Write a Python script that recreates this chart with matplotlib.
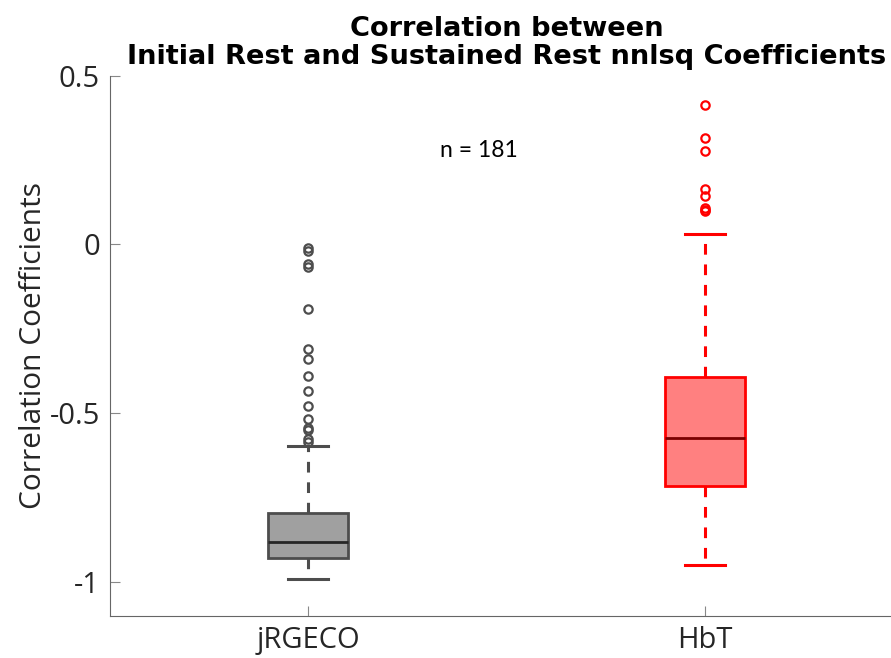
import numpy as np
import matplotlib
matplotlib.use('Agg')
from matplotlib import pyplot as plt

# summary statistics of the two coefficient sets
groups = ['jRGECO', 'HbT']
q1 = [-0.927, -0.715]
med = [-0.881, -0.572]
q3 = [-0.794, -0.392]
whislo = [-0.990, -0.950]
whishi = [-0.597, 0.032]
fliers_jrgeco = [-0.010, -0.019, -0.057, -0.066, -0.190, -0.311, -0.338,
                 -0.388, -0.435, -0.477, -0.518, -0.542, -0.550, -0.577, -0.586]
fliers_hbt = [0.414, 0.314, 0.278, 0.165, 0.144, 0.108, 0.103, 0.100]
n_obs = 181

edge_cols = ['#4d4d4d', '#ff0000']
fill_cols = ['#a0a0a0', '#ff8080']
med_cols = ['#262626', '#7a0000']
txt = '#262626'

stats = []
for i, name in enumerate(groups):
    stats.append({'label': name, 'q1': q1[i], 'med': med[i], 'q3': q3[i],
                  'whislo': whislo[i], 'whishi': whishi[i],
                  'fliers': [fliers_jrgeco, fliers_hbt][i]})

fig = plt.figure(figsize=(8.91, 6.58), dpi=100)
ax = fig.add_axes([0.1229, 0.0638, 0.8911, 0.8214])

bp = ax.bxp(stats, positions=[1, 2], widths=0.2, capwidths=0.1,
            patch_artist=True, showfliers=True)

for i in range(2):
    b = bp['boxes'][i]
    b.set_facecolor(fill_cols[i])
    b.set_edgecolor(edge_cols[i])
    b.set_linewidth(2.0)
    bp['medians'][i].set_color(med_cols[i])
    bp['medians'][i].set_linewidth(2.0)
    for w in bp['whiskers'][2*i:2*i+2]:
        w.set_color(edge_cols[i])
        w.set_linewidth(2.2)
        w.set_linestyle((0, (3.5, 3.2)))
    for c in bp['caps'][2*i:2*i+2]:
        c.set_color(edge_cols[i])
        c.set_linewidth(2.2)
    f = bp['fliers'][i]
    f.set_marker('o')
    f.set_markersize(6)
    f.set_markerfacecolor('none')
    f.set_markeredgecolor(edge_cols[i])
    f.set_markeredgewidth(1.6)

ax.set_xlim(0.5, 2.5)
ax.set_ylim(-1.1, 0.5)
ax.set_yticks([0.5, 0, -0.5, -1])
ax.set_yticklabels(['0.5', '0', '-0.5', '-1'])
ax.set_xticks([1, 2])
ax.set_xticklabels(groups)

for s in ['top', 'right']:
    ax.spines[s].set_visible(False)
for s in ['left', 'bottom']:
    ax.spines[s].set_color('#666666')
    ax.spines[s].set_linewidth(0.8)
ax.tick_params(direction='in', length=7, width=0.8, color='#888888',
               labelsize=21, labelcolor=txt, pad=7)
for lab in ax.get_xticklabels() + ax.get_yticklabels():
    lab.set_family('Open Sans')

ax.set_ylabel('Correlation Coefficients', fontsize=21.5, color=txt,
              family='Open Sans', labelpad=1)
ax.set_title('Correlation between\nInitial Rest and Sustained Rest nnlsq Coefficients',
             fontsize=19.6, fontweight='bold', family='DejaVu Sans', color='black',
             linespacing=1.12, pad=8)
ax.text(1.43, 0.277, 'n = %d' % n_obs, fontsize=16.5, family='Lato',
        ha='center', va='center', color='black')

fig.savefig('out.png', dpi=100)
